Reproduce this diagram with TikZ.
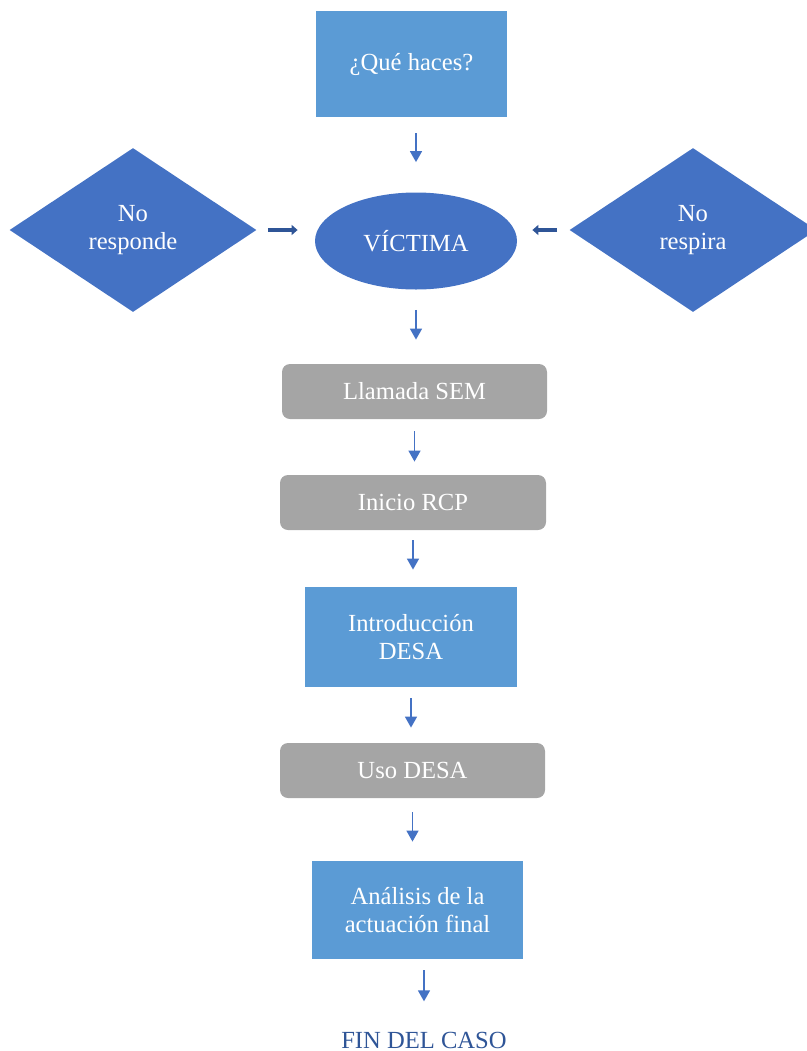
\documentclass[tikz,border=0pt]{standalone}
\usepackage{fontspec}
\setmainfont{Liberation Serif}
\usetikzlibrary{shapes.geometric,arrows.meta}
\definecolor{lblue}{HTML}{5B9BD5}
\definecolor{mblue}{HTML}{4472C4}
\definecolor{dblue}{HTML}{2F5597}
\definecolor{greyfill}{HTML}{A5A5A5}
\begin{document}
\begin{tikzpicture}[x=0.5pt,y=-0.5pt,
  txt/.style={text=white,font=\fontsize{12.3}{14.3}\selectfont,align=center,inner sep=0pt},
  bluebox/.style={txt,fill=lblue,rectangle},
  greybox/.style={txt,fill=greyfill,rectangle,rounded corners=4pt},
  dia/.style={txt,fill=mblue,diamond,minimum width=123.5pt,minimum height=82pt},
  flow/.style={mblue,line width=0.75pt,-{Triangle[length=5.5pt,width=6pt]}},
  side/.style={dblue,line width=2pt,-{Triangle[length=3pt,width=5pt]}}]
\useasboundingbox (0,0) rectangle (807,1051);
\node[bluebox,minimum width=95.5pt,minimum height=53pt] (q) at (411.5,64) {¿Qué haces?};
\node[txt,fill=mblue,ellipse,minimum width=101pt,minimum height=48.5pt] (v) at (416,241) {VÍCTIMA};
\node[dia] (d1) at (133,230) {No\\responde};
\node[dia] (d2) at (693,230) {No\\respira};
\node[greybox,minimum width=132.5pt,minimum height=27.5pt] (sem) at (414.5,391.5) {Llamada SEM};
\node[greybox,minimum width=133pt,minimum height=27.5pt] (rcp) at (413,502.5) {Inicio RCP};
\node[bluebox,minimum width=106pt,minimum height=50pt] (intro) at (411,637) {Introducción\\DESA};
\node[greybox,minimum width=132.5pt,minimum height=27.5pt] (uso) at (412.5,770.5) {Uso DESA};
\node[bluebox,minimum width=105.5pt,minimum height=49pt] (ana) at (417.5,910) {Análisis de la\\actuación final};
\node[txt,text=dblue] (fin) at (424,1040) {FIN DEL CASO};
\draw[flow,shorten <=8pt,shorten >=15pt] (v.north |- q.south) -- (v.north);
\draw[side,shorten <=5.5pt,shorten >=8.5pt] (d1.east) -- (d1.east -| v.west);
\draw[side,shorten <=6pt,shorten >=7.5pt] (d2.west) -- (d2.west -| v.east);
\draw[flow,shorten <=10pt,shorten >=12pt] (v.south) -- (v.south |- sem.north);
\draw[flow,shorten <=6pt,shorten >=6.5pt] (sem.south) -- (sem.south |- rcp.north);
\draw[flow,shorten <=5pt,shorten >=8.5pt] (rcp.south) -- (rcp.south |- intro.north);
\draw[flow,shorten <=5.5pt,shorten >=7.5pt] (intro.south) -- (intro.south |- uso.north);
\draw[flow,shorten <=7pt,shorten >=9.5pt] (uso.south) -- (uso.south |- ana.north);
\draw[flow,shorten <=5.5pt,shorten >=15pt] (fin.north |- ana.south) -- (fin.north);
\end{tikzpicture}
\end{document}
